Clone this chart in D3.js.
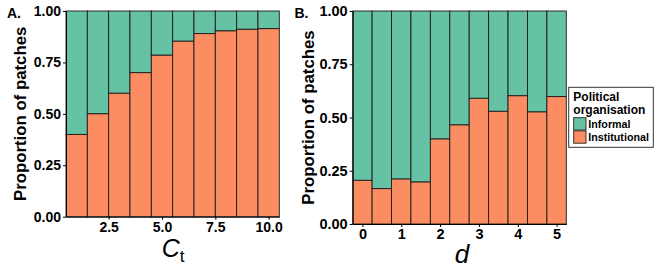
<!DOCTYPE html>
<html><head><meta charset="utf-8">
<script src="https://cdn.jsdelivr.net/npm/d3@7"></script>
<style>
body{margin:0;background:#fff;}
svg{display:block;font-family:"Liberation Sans",Arial,sans-serif;}
.axis text{font-weight:bold;fill:#000;}
.axis path,.axis line{stroke:#000;stroke-width:1;}
</style></head>
<body>
<svg id="c" width="664" height="277"></svg>
<script>
// ---- data ----
const ctValues = [1,2,3,4,5,6,7,8,9,10];
const ctInstitutional = [0.40,0.50,0.60,0.70,0.785,0.853,0.89,0.903,0.911,0.914];
const dValues = [0,0.5,1,1.5,2,2.5,3,3.5,4,4.5,5];
const dInstitutional = [0.205,0.166,0.211,0.197,0.399,0.465,0.59,0.529,0.602,0.526,0.598];
const ctTicks = [2.5,5,7.5,10];
const dTicks = [0,1,2,3,4,5];
const yTicks = [0,0.25,0.5,0.75,1];
const seriesNames = ["Informal","Institutional"];
const colors = {Informal:"#66C2A5", Institutional:"#FC8D62"};

const svg = d3.select("#c");

function panel(opts){
  const {xs, vals, width, x, y, ticks, fmt, label, labelX, ylabX, tickFont} = opts;
  const g = svg.append("g");
  // bars
  xs.forEach((v,i)=>{
    const inst = vals[i];
    const x0 = x(v - width/2), x1 = x(v + width/2);
    g.append("rect").attr("x",x0).attr("width",x1-x0)
      .attr("y",y(1)).attr("height",y(inst)-y(1))
      .attr("fill",colors.Informal).attr("stroke","#1a1a1a").attr("stroke-width",0.9);
    g.append("rect").attr("x",x0).attr("width",x1-x0)
      .attr("y",y(inst)).attr("height",y(0)-y(inst))
      .attr("fill",colors.Institutional).attr("stroke","#1a1a1a").attr("stroke-width",0.9);
  });
  // axes
  const ya = g.append("g").attr("class","axis").attr("transform",`translate(${x.range()[0]},0)`)
    .call(d3.axisLeft(y).tickValues(yTicks).tickFormat(d3.format(".2f")).tickSize(3).tickSizeOuter(0).tickPadding(2));
  ya.selectAll("text").style("font-size",tickFont+"px");
  const xa = g.append("g").attr("class","axis").attr("transform",`translate(0,${y(0)})`)
    .call(d3.axisBottom(x).tickValues(ticks).tickFormat(fmt).tickSize(3).tickSizeOuter(0).tickPadding(2));
  xa.selectAll("text").style("font-size",tickFont+"px");
  // y title
  const cy = (y(0)+y(1))/2;
  g.append("text").attr("transform",`translate(${ylabX},${cy}) rotate(-90)`)
    .attr("text-anchor","middle").attr("font-weight","bold").attr("font-size","16.8px")
    .text("Proportion of patches");
  // panel label
  g.append("text").attr("x",labelX).attr("y",18).attr("font-weight","bold").attr("font-size","14px").text(label);
  return g;
}

const xA = d3.scaleLinear().domain([0.5,10.5]).range([66,279.3]);
const yA = d3.scaleLinear().domain([0,1]).range([216.7,11]);
const gA = panel({xs:ctValues, vals:ctInstitutional, width:1, x:xA, y:yA, ticks:ctTicks,
  fmt:d3.format(".1f"), label:"A.", labelX:7, ylabX:25.5, tickFont:14});
const tA = gA.append("text").attr("x",(xA(0.5)+xA(10.5))/2 + 0.5).attr("y",257).attr("text-anchor","middle");
tA.append("tspan").attr("font-style","italic").attr("font-size","25px").text("C");
tA.append("tspan").attr("font-size","17px").attr("dy",5).text("t");

const xB = d3.scaleLinear().domain([-0.25,5.25]).range([352.7,566.3]);
const yB = d3.scaleLinear().domain([0,1]).range([224,11]);
const gB = panel({xs:dValues, vals:dInstitutional, width:0.5, x:xB, y:yB, ticks:dTicks,
  fmt:d3.format("d"), label:"B.", labelX:294.5, ylabX:314, tickFont:14.5});
gB.append("text").attr("x",462).attr("y",263).attr("text-anchor","middle")
  .attr("font-style","italic").attr("font-size","26px").text("d");

// legend
const lg = svg.append("g");
lg.append("rect").attr("x",568.7).attr("y",87.3).attr("width",84.6).attr("height",60)
  .attr("fill","#fff").attr("stroke","#333").attr("stroke-width",1);
lg.append("text").attr("x",573.3).attr("y",100.5).attr("font-weight","bold").attr("font-size","12px").text("Political");
lg.append("text").attr("x",573.3).attr("y",113.5).attr("font-weight","bold").attr("font-size","12px").text("organisation");
seriesNames.forEach((s,i)=>{
  const yy = 117.7 + i*13.2;
  lg.append("rect").attr("x",573.7).attr("y",yy).attr("width",12.3).attr("height",12.3)
    .attr("fill",colors[s]).attr("stroke","#222").attr("stroke-width",0.9);
  lg.append("text").attr("x",588.3).attr("y",yy+10).attr("font-weight","bold").attr("font-size","10.7px").text(s);
});
</script>
</body></html>
